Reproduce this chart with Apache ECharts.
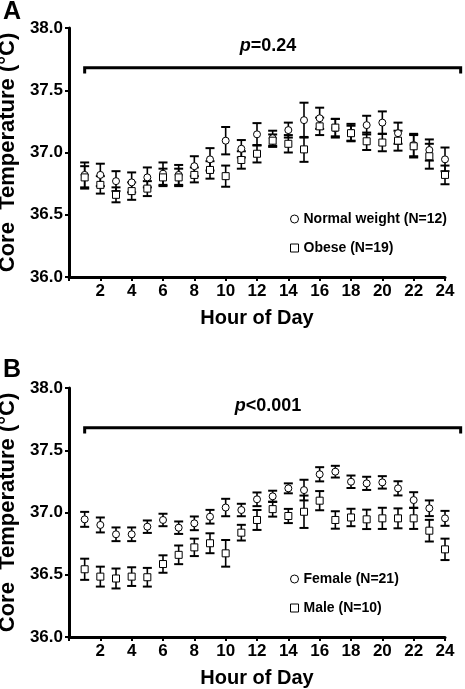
<!DOCTYPE html>
<html>
<head>
<meta charset="utf-8">
<script src="https://cdn.jsdelivr.net/npm/echarts@6/dist/echarts.min.js"></script>
<style>
html,body{margin:0;padding:0;background:#fff;}
#c{width:465px;height:689px;}
</style>
</head>
<body>
<div id="c"></div>
<script>
const hours = [1,2,3,4,5,6,7,8,9,10,11,12,13,14,15,16,17,18,19,20,21,22,23,24];
const xTicks = [2,4,6,8,10,12,14,16,18,20,22,24];
const yTicks = [36.0,36.5,37.0,37.5,38.0];

const normalMean = [36.82,36.82,36.77,36.76,36.80,36.83,36.82,36.89,36.945,37.095,37.03,37.146,37.115,37.18,37.26,37.275,37.195,37.16,37.22,37.24,37.155,37.06,37.02,36.945];
const normalErr  = [0.10,0.09,0.08,0.08,0.08,0.09,0.08,0.08,0.09,0.11,0.07,0.09,0.06,0.06,0.14,0.085,0.075,0.07,0.075,0.09,0.085,0.09,0.085,0.095];
const obeseMean  = [36.80,36.74,36.66,36.69,36.71,36.80,36.80,36.82,36.86,36.81,36.94,36.99,37.095,37.07,37.025,37.21,37.20,37.155,37.09,37.08,37.095,37.05,36.97,36.82];
const obeseErr   = [0.09,0.07,0.06,0.07,0.06,0.07,0.07,0.06,0.07,0.085,0.07,0.07,0.05,0.07,0.10,0.07,0.07,0.06,0.07,0.07,0.08,0.09,0.10,0.075];

const femaleMean = [36.945,36.90,36.825,36.825,36.886,36.94,36.878,36.913,36.966,37.04,37.02,37.106,37.13,37.194,37.18,37.307,37.328,37.247,37.234,37.242,37.194,37.10,37.034,36.953];
const femaleErr  = [0.06,0.06,0.055,0.055,0.05,0.05,0.05,0.055,0.055,0.07,0.05,0.055,0.045,0.04,0.083,0.057,0.047,0.05,0.053,0.05,0.057,0.063,0.063,0.06];
const maleMean   = [36.544,36.485,36.47,36.485,36.48,36.586,36.66,36.72,36.753,36.672,36.838,36.94,37.027,36.972,37.006,37.095,36.94,36.96,36.945,36.953,36.953,36.953,36.854,36.704];
const maleErr    = [0.085,0.08,0.08,0.075,0.075,0.07,0.075,0.07,0.08,0.107,0.063,0.08,0.06,0.057,0.13,0.077,0.07,0.07,0.078,0.085,0.08,0.085,0.087,0.086];

const seriesNames = ['Normal weight (N=12)','Obese (N=19)','Female (N=21)','Male (N=10)'];
const panelLabels = ['A','B'];
const pLabels = [['p','=0.24'],['p','<0.001']];
const bracketSpan = [1,25];
const bracketY = 37.68;
const bracketTickY = 37.635;
const pTextPos = [12.7, 37.855];

const FF = "'Liberation Sans', Arial, Helvetica, sans-serif";

function errRender(params, api){
  const x = api.value(0), m = api.value(1), e = api.value(2);
  const top = api.coord([x, m + e]);
  const bot = api.coord([x, m - e]);
  const cw = 4.5;
  return {type:'group', children:[
    {type:'line', shape:{x1:top[0],y1:top[1],x2:bot[0],y2:bot[1]}, style:{stroke:'#000', lineWidth:1.6}},
    {type:'line', shape:{x1:top[0]-cw,y1:top[1],x2:top[0]+cw,y2:top[1]}, style:{stroke:'#000', lineWidth:2}},
    {type:'line', shape:{x1:bot[0]-cw,y1:bot[1],x2:bot[0]+cw,y2:bot[1]}, style:{stroke:'#000', lineWidth:2}}
  ]};
}

function makeBracket(gi){
  return {
    type:'custom', xAxisIndex:gi, yAxisIndex:gi, clip:false, silent:true, z:5,
    data:[[bracketSpan[0], bracketSpan[1], bracketY, bracketTickY, pTextPos[0], pTextPos[1]]],
    encode:{x:[0,1], y:[2]},
    renderItem:function(params, api){
      const a = api.coord([api.value(0), api.value(2)]);
      const b = api.coord([api.value(1), api.value(2)]);
      const ad = api.coord([api.value(0), api.value(3)]);
      const bd = api.coord([api.value(1), api.value(3)]);
      const t = api.coord([api.value(4), api.value(5)]);
      const lab = pLabels[gi];
      return {type:'group', children:[
        {type:'polyline', shape:{points:[[ad[0],ad[1]],[a[0],a[1]],[b[0],b[1]],[bd[0],bd[1]]]}, style:{stroke:'#000', lineWidth:3, fill:null}},
        {type:'text', x:t[0], y:t[1], style:{
          text:'{i|' + lab[0] + '}{b|' + lab[1] + '}',
          align:'center', verticalAlign:'middle',
          rich:{
            i:{fontFamily:FF, fontSize:18, fontWeight:'bold', fontStyle:'italic', fill:'#000'},
            b:{fontFamily:FF, fontSize:18, fontWeight:'bold', fill:'#000'}
          }
        }}
      ]};
    }
  };
}

function errSeries(gi, mean, err){
  return {
    type:'custom', xAxisIndex:gi, yAxisIndex:gi, silent:true, z:2,
    data: hours.map((h,i)=>[h, mean[i], err[i]]),
    encode:{x:0, y:1},
    renderItem: errRender
  };
}

function scatterSeries(gi, name, symbol, mean){
  return {
    type:'scatter', name:name, xAxisIndex:gi, yAxisIndex:gi, z:4,
    symbol:symbol, symbolSize:7,
    itemStyle:{color:'#fff', borderColor:'#000', borderWidth:1, opacity:1},
    data: hours.map((h,i)=>[h, mean[i]])
  };
}

function xAxisCfg(gi){
  return {
    gridIndex:gi, type:'value', min:0, max:24, interval:2,
    axisLine:{show:true, onZero:false, lineStyle:{color:'#000', width:3}},
    axisTick:{show:true, length:4, lineStyle:{color:'#000', width:2}},
    axisLabel:{color:'#000', fontSize:17, fontWeight:'bold', fontFamily:FF, margin:6,
      formatter:function(v){ return xTicks.indexOf(v) >= 0 ? String(v) : ''; }},
    splitLine:{show:false},
    name:'Hour of Day', nameLocation:'middle', nameGap:31,
    nameTextStyle:{color:'#000', fontSize:20, fontWeight:'bold', fontFamily:FF}
  };
}
function yAxisCfg(gi){
  return {
    gridIndex:gi, type:'value', min:yTicks[0], max:yTicks[yTicks.length-1], interval:0.5,
    axisLine:{show:true, onZero:false, lineStyle:{color:'#000', width:3}},
    axisTick:{show:true, length:4, lineStyle:{color:'#000', width:2}},
    axisLabel:{color:'#000', fontSize:17, fontWeight:'bold', fontFamily:FF, margin:6,
      formatter:function(v){ return v.toFixed(1); }},
    splitLine:{show:false},
    name:'Core  Temperature (°C)', nameLocation:'middle', nameGap:43,
    nameTextStyle:{color:'#000', fontSize:22, fontWeight:'bold', fontFamily:FF}
  };
}

function legendCfg(names, top){
  return {
    data: names, orient:'vertical', left:290, top:top, padding:0,
    itemWidth:8, itemHeight:8, itemGap:15, selectedMode:false,
    textStyle:{color:'#000', fontSize:14, fontWeight:'bold', fontFamily:FF},
    itemStyle:{color:'#fff', borderColor:'#000', borderWidth:1}
  };
}

const chart = echarts.init(document.getElementById('c'), null, {renderer:'canvas'});
chart.setOption({
  animation:false,
  backgroundColor:'#fff',
  title:[
    {text:panelLabels[0], left:3, top:0, padding:0, textStyle:{color:'#000', fontSize:25, fontWeight:'bold', fontFamily:FF}},
    {text:panelLabels[1], left:3, top:358, padding:0, textStyle:{color:'#000', fontSize:25, fontWeight:'bold', fontFamily:FF}}
  ],
  grid:[
    {left:69, right:20, top:28, height:249, containLabel:false, outerBoundsMode:'none'},
    {left:69, right:20, top:388, height:249, containLabel:false, outerBoundsMode:'none'}
  ],
  xAxis:[xAxisCfg(0), xAxisCfg(1)],
  yAxis:[yAxisCfg(0), yAxisCfg(1)],
  legend:[
    legendCfg([seriesNames[0], seriesNames[1]], 212),
    legendCfg([seriesNames[2], seriesNames[3]], 572)
  ],
  series:[
    makeBracket(0),
    makeBracket(1),
    errSeries(0, normalMean, normalErr),
    errSeries(0, obeseMean, obeseErr),
    errSeries(1, femaleMean, femaleErr),
    errSeries(1, maleMean, maleErr),
    scatterSeries(0, seriesNames[0], 'circle', normalMean),
    scatterSeries(0, seriesNames[1], 'rect', obeseMean),
    scatterSeries(1, seriesNames[2], 'circle', femaleMean),
    scatterSeries(1, seriesNames[3], 'rect', maleMean)
  ]
});
</script>
</body>
</html>
